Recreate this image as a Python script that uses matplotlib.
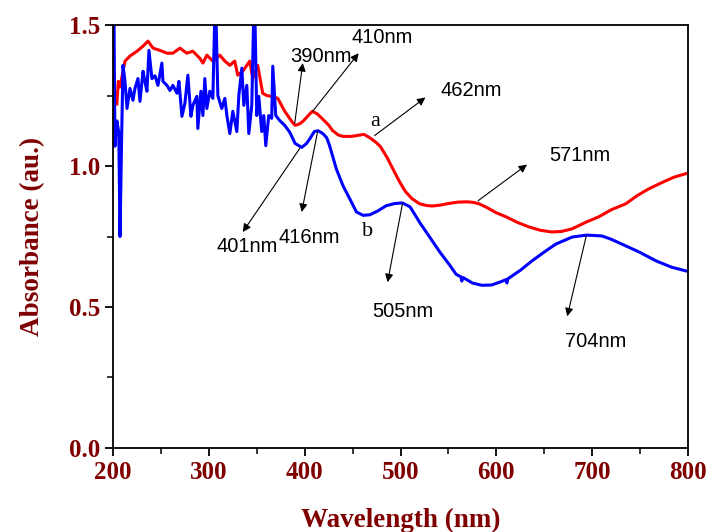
import matplotlib
matplotlib.use("Agg")
import matplotlib.pyplot as plt
from matplotlib.ticker import MultipleLocator, FormatStrFormatter

# curve a (red)
wl_a = [204, 205.5, 207.3, 209, 212.5, 217.7, 225, 231.3, 236.5, 241.7, 249, 256.3, 262.5,
        269.8, 277, 283.3, 290.6, 293.8, 297.9, 304.2, 311.5, 316.7, 321.9, 327, 330.2,
        335.4, 342.7, 345.8, 351, 356.2, 360.4, 365.6, 371.9, 379.2, 386.5, 390, 395, 399,
        404, 408, 413, 418, 425, 429, 435, 440, 449, 458, 462, 468, 474, 479, 486, 492, 499,
        505, 512, 520, 527, 533, 541, 550, 560, 569, 576, 582, 590, 600, 610, 622, 634, 646,
        658, 668, 679, 693, 707, 720, 735, 747, 759, 772, 785, 800]
abs_a = [1.22, 1.30, 1.28, 1.31, 1.372, 1.39, 1.407, 1.425, 1.443, 1.418, 1.41, 1.40, 1.40,
         1.418, 1.40, 1.407, 1.382, 1.365, 1.393, 1.372, 1.393, 1.372, 1.357, 1.372, 1.322,
         1.336, 1.372, 1.31, 1.357, 1.258, 1.25, 1.247, 1.24, 1.194, 1.158, 1.144, 1.15, 1.161,
         1.18, 1.194, 1.185, 1.169, 1.145, 1.126, 1.11, 1.105, 1.105, 1.11, 1.112, 1.10, 1.085,
         1.069, 1.03, 0.99, 0.944, 0.91, 0.884, 0.866, 0.86, 0.858, 0.861, 0.867, 0.872, 0.873,
         0.871, 0.866, 0.853, 0.834, 0.82, 0.80, 0.784, 0.772, 0.766, 0.768, 0.777, 0.80, 0.82,
         0.845, 0.866, 0.895, 0.919, 0.94, 0.96, 0.975]

# curve b (blue)
wl_b = [200, 201, 202, 204, 206, 207.3, 209, 210.4, 212.5, 214.6, 217.7, 220.8, 222.9, 226,
        228.1, 231.3, 233.3, 235.4, 237.5, 240.6, 243.8, 246.9, 251, 252.1, 256.3, 259.4,
        262.5, 266.7, 268.8, 271.9, 275, 278.1, 281.3, 283.3, 287.5, 288.5, 291.7, 293.8,
        295.8, 297.9, 301, 304.2, 306.3, 307.3, 309.4, 313.5, 316.7, 318.8, 321.9, 325, 329.2,
        331.3, 334.4, 336.5, 339.6, 341.7, 344.8, 346.9, 348, 350, 352.1, 355.2, 357.3, 359.4,
        362.5, 365.6, 366.7, 369.8, 374, 379.2, 384.4, 390, 397, 402, 406, 410, 414, 419, 423,
        426, 433, 440, 447, 454, 461, 468, 476, 485, 494, 502, 510, 520, 530, 541, 551, 558,
        563, 564, 565, 575, 585, 595, 605, 610, 611, 612, 625, 637, 650, 662, 679, 694, 710,
        720, 731, 749, 767, 783, 799]
abs_b = [1.55, 1.55, 1.07, 1.16, 1.12, 0.75, 1.10, 1.357, 1.30, 1.204, 1.275, 1.233, 1.275, 1.31,
         1.229, 1.336, 1.30, 1.265, 1.41, 1.31, 1.32, 1.286, 1.365, 1.30, 1.286, 1.268,
         1.286, 1.258, 1.30, 1.176, 1.222, 1.322, 1.176, 1.215, 1.247, 1.133, 1.265, 1.179,
         1.31, 1.204, 1.265, 1.24, 1.55, 1.55, 1.25, 1.204, 1.24, 1.179, 1.115, 1.194, 1.122,
         1.25, 1.347, 1.215, 1.286, 1.115, 1.215, 1.55, 1.55, 1.179, 1.247, 1.122, 1.179, 1.072,
         1.179, 1.169, 1.354, 1.179, 1.161, 1.144, 1.12, 1.08, 1.066, 1.08, 1.10, 1.122, 1.125,
         1.115, 1.10, 1.072, 0.99, 0.93, 0.884, 0.837, 0.825, 0.827, 0.84, 0.859, 0.867, 0.869,
         0.855, 0.80, 0.75, 0.695, 0.65, 0.616, 0.607, 0.592, 0.605, 0.585, 0.577, 0.578, 0.59,
         0.597, 0.585, 0.6, 0.63, 0.663, 0.695, 0.723, 0.748, 0.755, 0.752, 0.74, 0.723, 0.695,
         0.663, 0.641, 0.627]

# peak labels: text, arrow tail (on curve), arrow head, text position
peaks = [
    ("390nm", (389.6, 1.151), (398, 1.365), (416.7, 1.39)),
    ("410nm", (408.3, 1.194), (456.3, 1.40), (481, 1.454)),
    ("462nm", (473, 1.108), (526, 1.243), (574, 1.268)),
    ("571nm", (581, 0.877), (632, 1.005), (687.5, 1.037)),
    ("401nm", (394.8, 1.062), (335.4, 0.766), (339.6, 0.713)),
    ("416nm", (413.5, 1.122), (396.9, 0.837), (405, 0.748)),
    ("505nm", (502, 0.866), (486.5, 0.588), (502, 0.485)),
    ("704nm", (693.8, 0.752), (674, 0.467), (704, 0.378)),
]

dark_red = '#800000'

fig = plt.figure(figsize=(7.09, 5.32), dpi=100)
ax = fig.add_axes([0.1594, 0.1579, 0.811, 0.7951])

ax.plot(wl_a, abs_a, color='#ff0000', lw=2.2)
ax.plot(wl_b, abs_b, color='#0000ff', lw=2.2)

ax.set_xlim(200, 800)
ax.set_ylim(0, 1.5)
ax.xaxis.set_major_locator(MultipleLocator(100))
ax.xaxis.set_minor_locator(MultipleLocator(50))
ax.yaxis.set_major_locator(MultipleLocator(0.5))
ax.yaxis.set_minor_locator(MultipleLocator(0.25))
ax.yaxis.set_major_formatter(FormatStrFormatter('%.1f'))
ax.tick_params(which='major', direction='out', length=6, width=1.3, top=False, right=False)
ax.tick_params(which='minor', direction='out', length=4, width=1.1, top=False, right=False)
for s in ax.spines.values():
    s.set_linewidth(1.3)

for lab in ax.get_xticklabels() + ax.get_yticklabels():
    lab.set_fontfamily('Liberation Serif')
    lab.set_fontweight('bold')
    lab.set_fontsize(18)
    lab.set_color(dark_red)

ax.set_xlabel('Wavelength (nm)', fontfamily='Liberation Serif', fontweight='bold',
              fontsize=19.5, color=dark_red, labelpad=17)
ax.set_ylabel('Absorbance (au.)', fontfamily='Liberation Serif', fontweight='bold',
              fontsize=19.5, color=dark_red, labelpad=17)

for txt, tail, head, pos in peaks:
    ax.annotate('', xy=head, xytext=tail,
                arrowprops=dict(arrowstyle='-|>', color='k', lw=0.8,
                                mutation_scale=12, shrinkA=0, shrinkB=0))
    ax.text(pos[0], pos[1], txt, fontfamily='Liberation Sans', fontsize=14.5,
            ha='center', va='center')

ax.text(474, 1.158, 'a', fontfamily='Liberation Serif', fontsize=16, ha='center', va='center')
ax.text(465.6, 0.766, 'b', fontfamily='Liberation Serif', fontsize=16, ha='center', va='center')

fig.savefig('out.png', dpi=100)
